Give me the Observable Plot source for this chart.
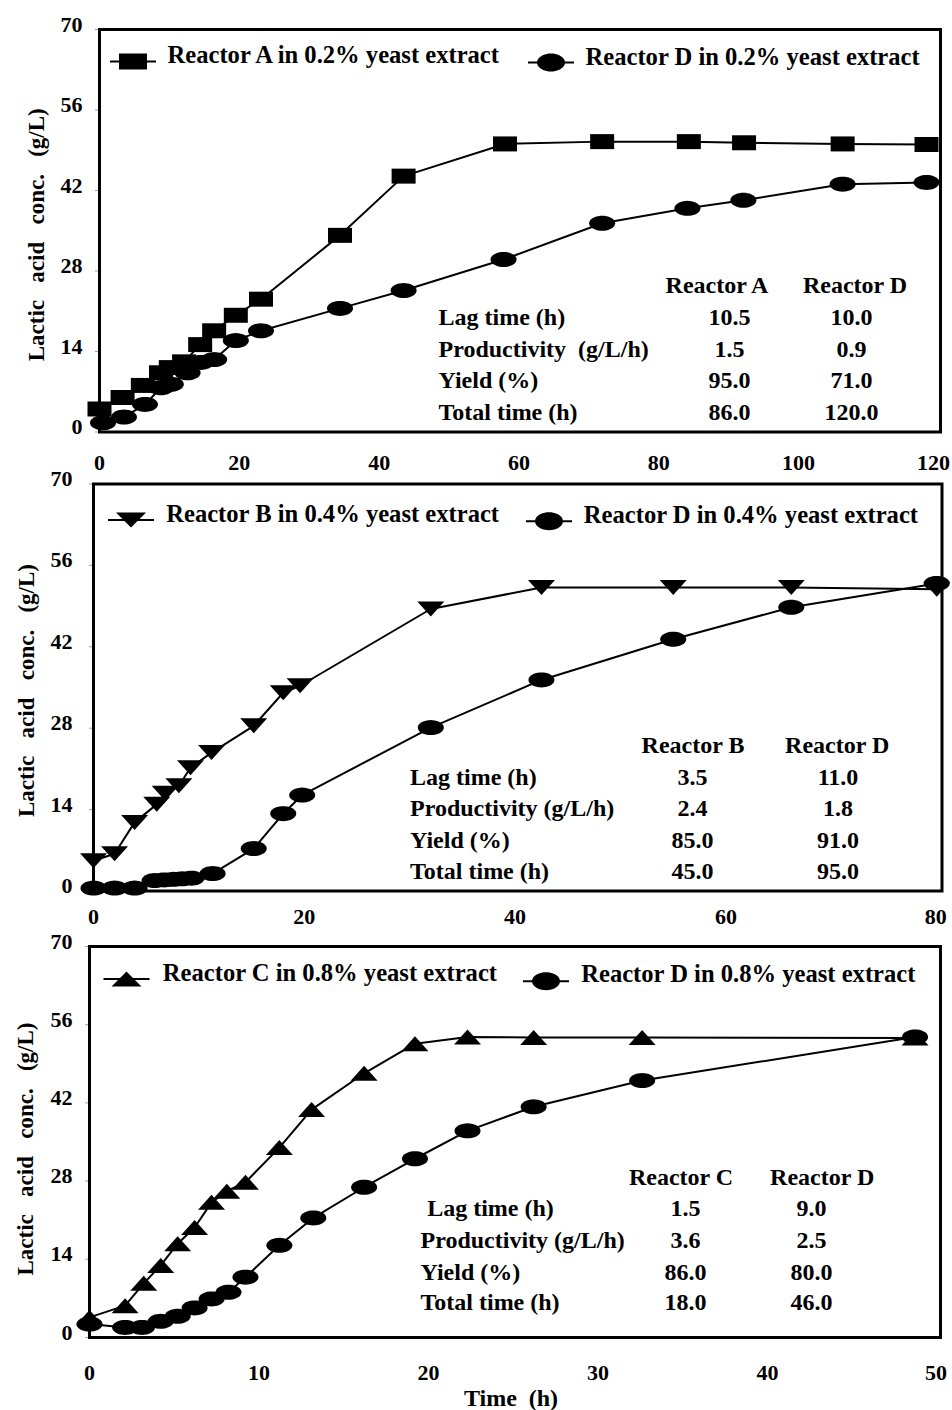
<!DOCTYPE html>
<html><head><meta charset="utf-8">
<script src="https://cdn.jsdelivr.net/npm/d3@7"></script>
<script src="https://cdn.jsdelivr.net/npm/@observablehq/plot@0.6"></script>
<style>
html,body{margin:0;padding:0;background:#fff;}
#chart{width:952px;}
#chart svg{display:block;}
</style></head><body><div id="chart"></div>
<script>
// ---------------- DATA ----------------
const yTicks = [0, 14, 28, 42, 56, 70];
const xTicks1 = [0, 20, 40, 60, 80, 100, 120];
const xTicks2 = [0, 20, 40, 60, 80];
const xTicks3 = [0, 10, 20, 30, 40, 50];

// Panel 1: 0.2% yeast extract
const timeA  = [0, 3.3, 6.2, 8.8, 10.2, 12.1, 14.4, 16.4, 19.5, 23.1, 34.4, 43.5, 58.0, 71.9, 84.3, 92.2, 106.3, 118.3];
const concA  = [4.0, 6.0, 8.1, 10.3, 11.2, 12.2, 15.2, 17.6, 20.3, 23.1, 34.2, 44.5, 50.1, 50.5, 50.5, 50.3, 50.1, 50.0];
const timeD1 = [0.5, 3.5, 6.5, 8.8, 10.2, 12.6, 14.5, 16.4, 19.5, 23.1, 34.4, 43.5, 57.8, 71.9, 84.1, 92.1, 106.3, 118.3];
const concD1 = [1.6, 2.6, 4.8, 7.7, 8.3, 10.3, 12.1, 12.6, 15.9, 17.6, 21.5, 24.6, 30.0, 36.3, 38.9, 40.3, 43.1, 43.4];

// Panel 2: 0.4% yeast extract
const timeB  = [0, 2.0, 3.9, 6.0, 6.8, 8.1, 9.2, 11.2, 15.2, 18.0, 19.6, 32.0, 42.5, 55.0, 66.2, 80];
const concB  = [5.2, 6.4, 11.8, 14.9, 16.8, 18.1, 21.2, 23.8, 28.4, 34.1, 35.3, 48.5, 52.2, 52.2, 52.2, 51.9];
const timeD2 = [0, 2.0, 3.9, 5.8, 6.7, 7.6, 8.4, 9.3, 11.3, 15.2, 18.0, 19.8, 32.0, 42.5, 55.0, 66.2, 80];
const concD2 = [0.5, 0.5, 0.5, 1.8, 1.9, 2.0, 2.1, 2.2, 3.0, 7.3, 13.3, 16.5, 28.1, 36.3, 43.3, 48.8, 52.9];

// Panel 3: 0.8% yeast extract
const timeC  = [0, 2.1, 3.2, 4.2, 5.2, 6.2, 7.2, 8.1, 9.2, 11.2, 13.1, 16.2, 19.2, 22.3, 26.2, 32.6, 48.7];
const concC  = [3.6, 5.7, 9.7, 12.9, 16.8, 19.7, 24.2, 26.2, 27.8, 34.0, 40.8, 47.3, 52.6, 53.8, 53.7, 53.7, 53.6];
const timeD3 = [0, 2.1, 3.1, 4.2, 5.2, 6.2, 7.2, 8.2, 9.2, 11.2, 13.2, 16.2, 19.2, 22.3, 26.2, 32.6, 48.7];
const concD3 = [2.4, 1.8, 1.8, 2.9, 3.8, 5.3, 6.9, 8.1, 10.8, 16.5, 21.4, 26.9, 32.0, 37.0, 41.3, 46.0, 53.8];

// Legends
const legend1 = ["Reactor A in 0.2% yeast extract", "Reactor D in 0.2% yeast extract"];
const legend2 = ["Reactor B in 0.4% yeast extract", "Reactor D in 0.4% yeast extract"];
const legend3 = ["Reactor C in 0.8% yeast extract", "Reactor D in 0.8% yeast extract"];

// Tables
const rowLabels1 = ["Lag time (h)", "Productivity\u00a0 (g/L/h)", "Yield (%)", "Total time (h)"];
const rowLabels  = ["Lag time (h)", "Productivity (g/L/h)", "Yield (%)", "Total time (h)"];
const headers1 = ["Reactor A", "Reactor D"];
const valuesA  = ["10.5", "1.5", "95.0", "86.0"];
const valuesD1 = ["10.0", "0.9", "71.0", "120.0"];
const headers2 = ["Reactor B", "Reactor D"];
const valuesB  = ["3.5", "2.4", "85.0", "45.0"];
const valuesD2 = ["11.0", "1.8", "91.0", "95.0"];
const headers3 = ["Reactor C", "Reactor D"];
const valuesC  = ["1.5", "3.6", "86.0", "18.0"];
const valuesD3 = ["9.0", "2.5", "80.0", "46.0"];

const yTitle = "Lactic\u00a0\u00a0 acid\u00a0\u00a0 conc.\u00a0\u00a0 (g/L)";
const xTitle = "Time\u00a0\u00a0(h)";

// ---------------- SYMBOLS ----------------
const FONT = "'Liberation Serif','Times New Roman',Times,serif";
function ellipseShape(rx, ry) {
  return {draw(ctx) {
    const n = 40;
    for (let i = 0; i < n; i++) {
      const a = 2 * Math.PI * i / n;
      const px = rx * Math.cos(a), py = ry * Math.sin(a);
      if (i) ctx.lineTo(px, py); else ctx.moveTo(px, py);
    }
    ctx.closePath();
  }};
}
function rectShape(w, h) {
  return {draw(ctx) { ctx.moveTo(-w/2, -h/2); ctx.lineTo(w/2, -h/2); ctx.lineTo(w/2, h/2); ctx.lineTo(-w/2, h/2); ctx.closePath(); }};
}
function triDownShape(w, h) {
  return {draw(ctx) { ctx.moveTo(-w/2, -h/2); ctx.lineTo(w/2, -h/2); ctx.lineTo(0, h/2); ctx.closePath(); }};
}
function triUpShape(w, h) {
  return {draw(ctx) { ctx.moveTo(-w/2, h/2); ctx.lineTo(0, -h/2); ctx.lineTo(w/2, h/2); ctx.closePath(); }};
}
function legendShape(shape) {
  return {draw(ctx) { ctx.moveTo(-23, -1); ctx.lineTo(23, -1); ctx.lineTo(23, 1); ctx.lineTo(-23, 1); ctx.closePath(); shape.draw(ctx); }};
}

// ---------------- PANELS ----------------
function panel(p) {
  const W = 952;
  const plotW = W - p.ml - p.mr;
  const ox = x => x - p.ml;
  const oy = y => y - p.top - p.mt;
  const s1 = p.t1.map((t, i) => ({t, c: p.c1[i]}));
  const s2 = p.t2.map((t, i) => ({t, c: p.c2[i]}));
  const T = {frameAnchor: "top-left", fill: "black", fontWeight: "bold", lineAnchor: "middle"};
  const lastTick = p.xTicks[p.xTicks.length - 1];
  const innerTicks = p.xTicks.slice(0, -1);
  const marks = [
    Plot.ruleY(yTicks, {stroke: "#a0a0a0", strokeWidth: 1, insetLeft: -4, insetRight: plotW}),
    Plot.axisY(yTicks, {anchor: "left", tickSize: 0, tickPadding: p.yPad, dy: -5, fontSize: 22, fontWeight: "bold", label: null}),
    Plot.axisX(innerTicks, {anchor: "bottom", tickSize: 0, tickPadding: p.xPad, fontSize: 22, fontWeight: "bold", label: null}),
    Plot.axisX([lastTick], {anchor: "bottom", tickSize: 0, tickPadding: p.xPad, dx: p.lastDx, fontSize: 22, fontWeight: "bold", label: null}),
    Plot.line(s1, {x: "t", y: "c", stroke: "black", strokeWidth: 2}),
    Plot.line(s2, {x: "t", y: "c", stroke: "black", strokeWidth: 2}),
    Plot.dot(s1, {x: "t", y: "c", symbol: p.sym1, fill: "black"}),
    Plot.dot(s2, {x: "t", y: "c", symbol: p.sym2, fill: "black"}),
    Plot.frame({stroke: "black", strokeWidth: 3}),
    Plot.text([yTitle], {frameAnchor: "left", rotate: -90, dx: p.yTitleX - p.ml, dy: p.yTitleDy, textAnchor: "middle", lineAnchor: "middle", fontSize: 23, fontWeight: "bold", fill: "black"})
  ];
  // legend
  p.legPos.forEach((L, i) => {
    marks.push(Plot.dot([0], {frameAnchor: "top-left", dx: ox(L.sx), dy: oy(L.sy), symbol: legendShape(i === 0 ? p.leg1 : p.leg2), fill: "black"}));
    marks.push(Plot.text([p.legend[i]], {...T, dx: ox(L.tx), dy: oy(L.ty), textAnchor: "start", fontSize: 24.6}));
  });
  // table
  const tb = p.table;
  p.headers.forEach((h, j) => marks.push(Plot.text([h], {...T, dx: ox(tb.headerX[j]), dy: oy(tb.headerY), textAnchor: "middle", fontSize: 24})));
  p.rows.forEach((r, i) => {
    marks.push(Plot.text([r], {...T, dx: ox(tb.labelX[i]), dy: oy(tb.rowY[i]), textAnchor: "start", fontSize: 24}));
    marks.push(Plot.text([p.v1[i]], {...T, dx: ox(tb.valX[0]), dy: oy(tb.rowY[i]), textAnchor: "middle", fontSize: 24}));
    marks.push(Plot.text([p.v2[i]], {...T, dx: ox(tb.valX[1]), dy: oy(tb.rowY[i]), textAnchor: "middle", fontSize: 24}));
  });
  if (p.xTitle) {
    marks.push(Plot.text([p.xTitle], {frameAnchor: "bottom", dx: -4, dy: p.xTitleDy, textAnchor: "middle", lineAnchor: "middle", fontSize: 24, fontWeight: "bold", fill: "black"}));
  }
  return Plot.plot({
    width: W, height: p.h,
    marginLeft: p.ml, marginRight: p.mr, marginTop: p.mt, marginBottom: p.mb,
    x: {domain: [0, p.xMax], axis: null},
    y: {domain: [0, 70], axis: null},
    style: {fontFamily: FONT, fontWeight: "bold", fontSize: "22px", color: "black", background: "white", overflow: "visible"},
    marks
  });
}

const sqData = rectShape(24, 15), ellData = ellipseShape(13, 7.5);
const triDData = triDownShape(27, 15), triUData = triUpShape(27, 15);

const panels = [
  {top: 0, h: 470, ml: 99, mr: 12, mt: 29, mb: 38.5, xMax: 120.3, xTicks: xTicks1, xPad: 22, yPad: 17, lastDx: -5,
   yTitleX: 36, yTitleDy: 4,
   t1: timeA, c1: concA, t2: timeD1, c2: concD1, sym1: sqData, sym2: ellData,
   leg1: rectShape(28, 16), leg2: ellipseShape(14, 9), legend: legend1,
   legPos: [{sx: 132.5, sy: 61, tx: 167, ty: 55}, {sx: 550.5, sy: 62, tx: 585, ty: 56.5}],
   headers: headers1, rows: rowLabels1, v1: valuesA, v2: valuesD1,
   table: {labelX: [438, 438, 438, 438], headerX: [716.5, 854.5], valX: [729, 851], headerY: 285, rowY: [316.7, 349, 380, 411.7]}},
  {top: 470, h: 460, ml: 93, mr: 10.5, mt: 13.5, mb: 39.5, xMax: 80.5, xTicks: xTicks2, xPad: 17.5, yPad: 21, lastDx: -1,
   yTitleX: 26, yTitleDy: 3,
   t1: timeB, c1: concB, t2: timeD2, c2: concD2, sym1: triDData, sym2: ellData,
   leg1: triDownShape(30, 15), leg2: ellipseShape(14, 9), legend: legend2,
   legPos: [{sx: 130.5, sy: 519.5, tx: 165.7, ty: 513.5}, {sx: 548.5, sy: 520.7, tx: 583.3, ty: 515}],
   headers: headers2, rows: rowLabels, v1: valuesB, v2: valuesD2,
   table: {labelX: [409.5, 409.5, 409.5, 409.5], headerX: [692.5, 836.7], valX: [692, 837.5], headerY: 745, rowY: [776.7, 808.3, 840, 871]}},
  {top: 930, h: 480, ml: 89, mr: 12, mt: 16, mb: 73, xMax: 50.2, xTicks: xTicks3, xPad: 26.5, yPad: 17, lastDx: -1,
   yTitleX: 25, yTitleDy: 7, xTitle: xTitle, xTitleDy: 61,
   t1: timeC, c1: concC, t2: timeD3, c2: concD3, sym1: triUData, sym2: ellData,
   leg1: triUpShape(30, 15), leg2: ellipseShape(14, 9), legend: legend3,
   legPos: [{sx: 126, sy: 978.5, tx: 162.3, ty: 972.7}, {sx: 545.5, sy: 980.7, tx: 580.7, ty: 974}],
   headers: headers3, rows: rowLabels, v1: valuesC, v2: valuesD3,
   table: {labelX: [426.7, 420, 420, 420], headerX: [680.5, 821.7], valX: [685, 811], headerY: 1176.7, rowY: [1208.3, 1240, 1271.7, 1302]}}
];

const root = document.getElementById("chart");
panels.forEach(p => root.appendChild(panel(p)));
</script>
</body></html>
